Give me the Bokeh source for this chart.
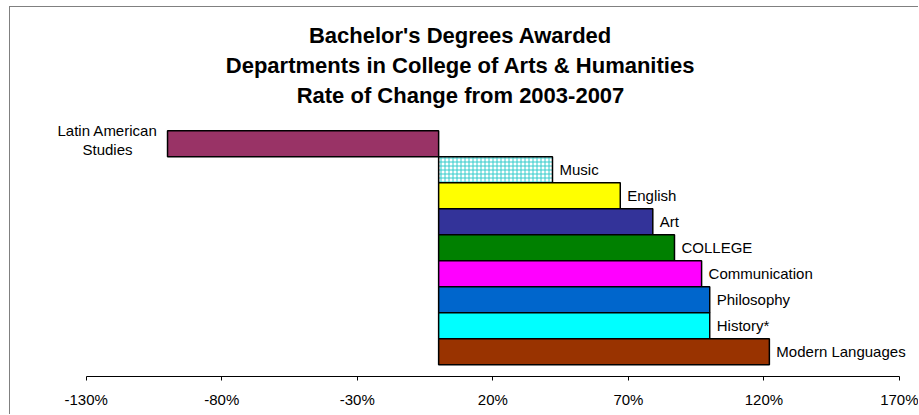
from bokeh.plotting import figure
from bokeh.models import ColumnDataSource, Range1d, FixedTicker, PrintfTickFormatter, Label
from bokeh.core.properties import value
from bokeh.embed import file_html
from bokeh.resources import INLINE

# ---- data ----
categories = ["Latin American Studies", "Music", "English", "Art", "COLLEGE",
              "Communication", "Philosophy", "History*", "Modern Languages"]
bar_labels = ["Latin American\nStudies", "Music", "English", "Art", "COLLEGE",
              "Communication", "Philosophy", "History*", "Modern Languages"]
changes = [-100, 42, 67, 79, 87, 97, 100, 100, 122]
tick_values = [-130, -80, -30, 20, 70, 120, 170]
title_lines = ["Bachelor's Degrees Awarded",
               "Departments in College of Arts & Humanities",
               "Rate of Change from 2003-2007"]

# ---- styles / layout ----
bar_colors = ["#993366", "#FFFFFF", "#FFFF00", "#333399", "#008000",
              "#FF00FF", "#0066CC", "#00FFFF", "#993300"]
bar_hatches = [" ", "+", " ", " ", " ", " ", " ", " ", " "]
FONT = "Liberation Sans"

W, H = 909, 408
RIGHT_PAD = 9
BOTTOM = 39
AXIS_L, AXIS_R = 75.7, 889.0   # pixel positions of first / last tick in the frame
frame_w = W - RIGHT_PAD
frame_h = H - BOTTOM
ppu = (AXIS_R - AXIS_L) / (tick_values[-1] - tick_values[0])
x_start = tick_values[0] - AXIS_L / ppu
x_end = tick_values[-1] + (frame_w - AXIS_R) / ppu

# category slots: first category at the top, one unit per slot
slot = list(range(len(categories) - 1, -1, -1))
SLOT_PX = 26.0          # pixel height of one category slot
BARS_BOTTOM_PX = 357.3  # bottom of the lowest bar, from the top of the canvas
y_start = -0.5 - (frame_h - BARS_BOTTOM_PX) / SLOT_PX
y_end = y_start + frame_h / SLOT_PX

p = figure(width=W, height=H,
           x_range=Range1d(x_start, x_end), y_range=Range1d(y_start, y_end),
           y_axis_location=None,
           output_backend="svg", toolbar_location=None,
           title=None,
           min_border_left=0, min_border_right=RIGHT_PAD,
           min_border_bottom=BOTTOM, min_border_top=0,
           styles={"margin-left": "9px", "margin-top": "6px",
                   "border-left": "1px solid #808080", "border-top": "1px solid #808080"})

# title lines: centres at 28, 58, 88 px from the top of the canvas
TITLE_TOP_CENTER = 28
TITLE_STEP = 30
for k, line in enumerate(title_lines):
    p.add_layout(Label(x=frame_w / 2, y=frame_h - (TITLE_TOP_CENTER + k * TITLE_STEP),
                       x_units="screen", y_units="screen", text=line,
                       text_align="center", text_baseline="middle",
                       text_font=FONT, text_font_size="22px", text_font_style="bold",
                       text_color="black"))

src = ColumnDataSource(dict(slot=slot, val=changes, color=bar_colors, hatch=bar_hatches))
p.hbar(y="slot", left=0, right="val", height=1.0, source=src,
       fill_color="color", line_color="black", line_width=1.5,
       hatch_pattern="hatch", hatch_color="#33CCCC", hatch_scale=4, hatch_weight=1)

pos = [i for i, v in enumerate(changes) if v >= 0]
neg = [i for i, v in enumerate(changes) if v < 0]
pos_src = ColumnDataSource(dict(slot=[slot[i] for i in pos], val=[changes[i] for i in pos],
                                label=[bar_labels[i] for i in pos]))
neg_src = ColumnDataSource(dict(slot=[slot[i] for i in neg], val=[changes[i] for i in neg],
                                label=[bar_labels[i] for i in neg]))
p.text(x="val", y="slot", text="label", source=pos_src, text_align="left",
       text_baseline="middle", x_offset=7, text_font=value(FONT),
       text_font_size="15px", text_color="black")
p.text(x="val", y="slot", text="label", source=neg_src, text_align="center",
       text_baseline="middle", x_offset=-60, y_offset=-4, text_line_height=1.15,
       text_font=value(FONT), text_font_size="15px", text_color="black")

ax = p.xaxis[0]
ax.bounds = (tick_values[0], tick_values[-1])
ax.ticker = FixedTicker(ticks=tick_values)
ax.formatter = PrintfTickFormatter(format="%d%%")
ax.axis_line_color = "black"
ax.axis_line_width = 1
ax.major_tick_line_color = "black"
ax.major_tick_out = 4
ax.major_tick_in = 0
ax.minor_tick_out = 0
ax.minor_tick_in = 0
ax.major_label_standoff = 10
ax.major_label_text_font = FONT
ax.major_label_text_font_size = "15px"
ax.major_label_text_color = "black"

p.grid.visible = False
p.outline_line_color = None
p.background_fill_color = "white"
p.border_fill_color = "white"

open("out.html", "w").write(file_html(p, INLINE))
